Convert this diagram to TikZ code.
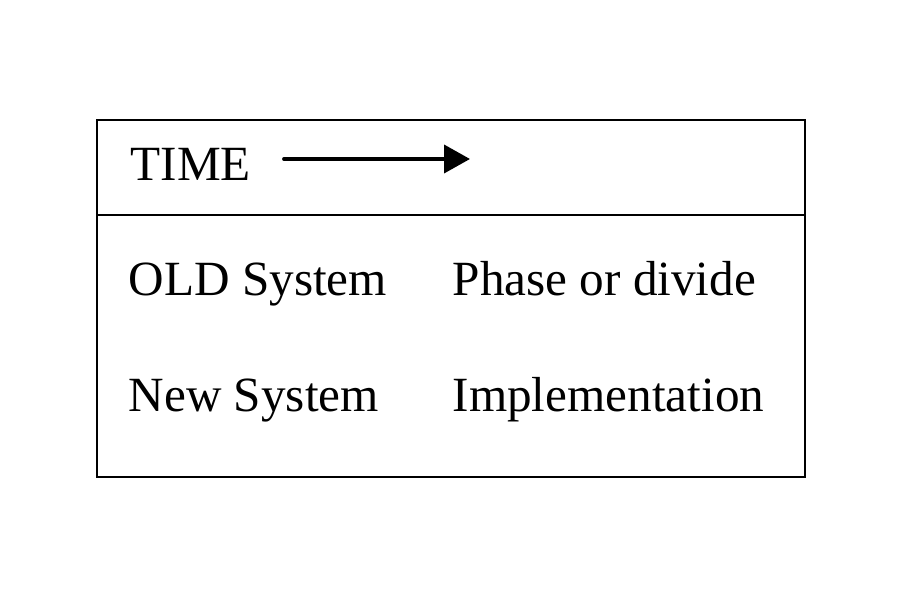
\documentclass[tikz,border=0pt]{standalone}
\usepackage{fontspec}
\setmainfont{Liberation Serif}
\usetikzlibrary{positioning,arrows.meta}

\begin{document}
\begin{tikzpicture}[
        label_text/.style={inner sep=0pt, anchor=base west, font=\fontsize{14pt}{16pt}\selectfont},
        box_line/.style={draw=black, line width=0.7pt},
        time_arrow/.style={line width=1.1pt, line cap=round, -{Triangle[length=2.6mm, width=2.8mm]}}
        ]
            \useasboundingbox (0,0) rectangle (9,6);

            % frame
            \draw[box_line] (0.97,1.23) rectangle (8.05,4.80);
            \draw[box_line] (0.97,3.85) -- (8.05,3.85);

            % header
            \node[label_text]    (time)       at (1.30,4.19)                     {TIME};
            \coordinate          (arrow_start) at (2.84,4.41);
            \coordinate          (arrow_end)   at (4.70,4.41);

            % rows
            \node[label_text]    (old_sys)    at (1.28,3.04)                     {OLD System};
            \node[label_text]    (phase)      at (4.52,3.04)                     {Phase or divide};
            \node[label_text]    (new_sys)    at (1.28,1.89)                     {New System};
            \node[label_text]    (impl)       at (4.52,1.89)                     {Implementation};

            % Lines
            \draw[time_arrow] (arrow_start) -- (arrow_end);
        \end{tikzpicture}
\end{document}
